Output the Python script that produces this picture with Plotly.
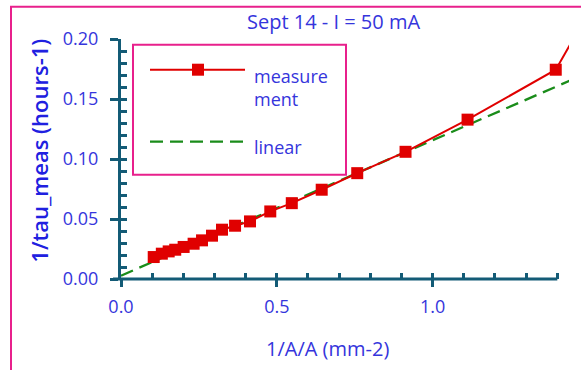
import plotly.graph_objects as go

# Measured relaxation rate vs inverse area
x_meas = [0.105, 0.131, 0.153, 0.174, 0.201, 0.233, 0.260, 0.292, 0.324, 0.366,
          0.414, 0.479, 0.548, 0.644, 0.758, 0.913, 1.112, 1.395, 1.600]
y_meas = [0.0183, 0.0211, 0.0230, 0.0244, 0.0267, 0.0294, 0.0322, 0.0361, 0.0411, 0.0444,
          0.0480, 0.0563, 0.0632, 0.0744, 0.0882, 0.1060, 0.1328, 0.1744, 0.2680]

# Linear fit end points
x_lin = [0.0, 1.6]
y_lin = [0.0028, 0.1833]

x_tick_vals = [0.0, 0.5, 1.0]
x_tick_text = ["0.0", "0.5", "1.0"]
y_tick_vals = [0.00, 0.05, 0.10, 0.15, 0.20]
y_tick_text = ["0.00", "0.05", "0.10", "0.15", "0.20"]

title_text = "Sept 14 - I = 50 mA"
x_title = "1/A/A (mm-2)"
y_title = "1/tau_meas (hours-1)"
legend_labels = ["measure<br>ment", "linear"]

W, H = 581, 370
L, R, T, B = 121, 569, 39.3, 279.3
X_MAX = 1.4375
X_AXIS_END = 1.4

FONT = "Open Sans"
BLUE = "#3535dc"
TEAL = "#135b76"
PINK = "#e8208c"
RED = "#e00000"
GREEN = "#1a8c1a"
DASH = "13px,7px"


def px(x):
    return (x - L) / (R - L)


def py(y):
    return (B - y) / (B - T)


fig = go.Figure()
fig.add_trace(go.Scatter(x=x_lin, y=y_lin, mode="lines",
                         line=dict(color=GREEN, width=2.3, dash=DASH),
                         showlegend=False, hoverinfo="skip"))
fig.add_trace(go.Scatter(x=x_meas, y=y_meas, mode="lines+markers",
                         line=dict(color=RED, width=2),
                         marker=dict(symbol="square", size=12, color=RED),
                         showlegend=False))
# invisible trace to carry the inner tick axes
fig.add_trace(go.Scatter(x=[0], y=[0], xaxis="x2", yaxis="y2", mode="markers",
                         marker=dict(opacity=0), showlegend=False, hoverinfo="skip"))

tickfont = dict(family=FONT, size=18, color=BLUE)

fig.update_layout(
    width=W, height=H,
    margin=dict(l=L, r=W - R, t=T, b=H - B),
    paper_bgcolor="white", plot_bgcolor="white",
    xaxis=dict(range=[0, X_MAX], tickvals=x_tick_vals, ticktext=x_tick_text,
               ticks="outside", ticklen=7, tickwidth=3, tickcolor=TEAL,
               showline=False, showgrid=False, zeroline=False,
               tickfont=tickfont, ticklabelstandoff=4),
    yaxis=dict(range=[0, 0.2], tickvals=y_tick_vals, ticktext=y_tick_text,
               ticks="outside", ticklen=8, tickwidth=3, tickcolor=TEAL,
               showline=True, linewidth=3, linecolor=TEAL,
               showgrid=False, zeroline=False,
               tickfont=tickfont, ticklabelstandoff=8),
    xaxis2=dict(range=[0, X_MAX], overlaying="x", tick0=0, dtick=0.1,
                ticks="inside", ticklen=6, tickwidth=3, tickcolor=TEAL,
                showticklabels=False, showline=False, showgrid=False,
                zeroline=False, side="bottom"),
    yaxis2=dict(range=[0, 0.2], overlaying="y", tick0=0, dtick=0.01,
                ticks="inside", ticklen=6, tickwidth=3, tickcolor=TEAL,
                showticklabels=False, showline=False, showgrid=False,
                zeroline=False, side="left"),
)

shapes = []
# outer frame
shapes.append(dict(type="rect", xref="paper", yref="paper",
                   x0=px(11), x1=px(W + 20), y0=py(7), y1=py(H + 20),
                   line=dict(color=PINK, width=2), layer="below"))
# x axis line (ends at 1.4)
shapes.append(dict(type="line", xref="paper", yref="paper",
                   x0=px(113), x1=X_AXIS_END / X_MAX, y0=0, y1=0,
                   line=dict(color=TEAL, width=3)))
# legend box
shapes.append(dict(type="rect", xref="paper", yref="paper",
                   x0=px(133), x1=px(346), y0=py(45), y1=py(175),
                   line=dict(color=PINK, width=2), fillcolor="white", layer="above"))
shapes.append(dict(type="line", xref="paper", yref="paper",
                   x0=px(150), x1=px(245), y0=py(70), y1=py(70),
                   line=dict(color=RED, width=2)))
shapes.append(dict(type="rect", xref="paper", yref="paper",
                   x0=px(192), x1=px(204), y0=py(64), y1=py(76),
                   line=dict(width=0), fillcolor=RED))
shapes.append(dict(type="line", xref="paper", yref="paper",
                   x0=px(150), x1=px(245), y0=py(142), y1=py(142),
                   line=dict(color=GREEN, width=2.3, dash=DASH)))
fig.update_layout(shapes=shapes)

ann = []
ann.append(dict(text=title_text, x=px(333), y=py(22), xref="paper", yref="paper",
                showarrow=False, xanchor="center", yanchor="middle",
                font=dict(family=FONT, size=20, color=BLUE)))
ann.append(dict(text=x_title, x=px(327), y=py(349), xref="paper", yref="paper",
                showarrow=False, xanchor="center", yanchor="middle",
                font=dict(family=FONT, size=20, color=BLUE)))
ann.append(dict(text=y_title, x=px(39), y=py(151), xref="paper", yref="paper",
                showarrow=False, xanchor="center", yanchor="middle", textangle=-90,
                font=dict(family=FONT, size=22, color="#2020e0", weight=600)))
ann.append(dict(text=legend_labels[0], x=px(252), y=py(88), xref="paper", yref="paper",
                showarrow=False, xanchor="left", yanchor="middle", align="left",
                font=dict(family=FONT, size=18, color=BLUE)))
ann.append(dict(text=legend_labels[1], x=px(252), y=py(147), xref="paper", yref="paper",
                showarrow=False, xanchor="left", yanchor="middle", align="left",
                font=dict(family=FONT, size=18, color=BLUE)))
fig.update_layout(annotations=ann)

fig.write_html("out.html")
